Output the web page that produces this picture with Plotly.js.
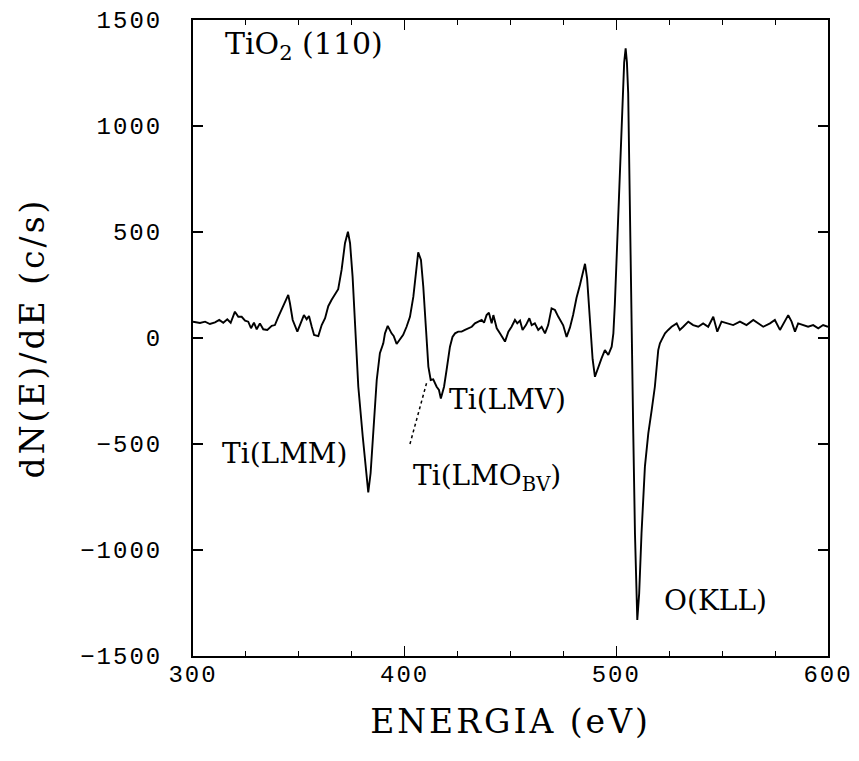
<!DOCTYPE html>
<html>
<head>
<meta charset="utf-8">
<script src="https://cdn.plot.ly/plotly-3.0.1.min.js"></script>
<style>
html,body{margin:0;padding:0;background:#fff;}
#chart{width:859px;height:761px;}
#chart .xtick text, #chart .ytick text{letter-spacing:2px;}
#chart .xtitle, #chart .ytitle{letter-spacing:3px;}
</style>
</head>
<body>
<div id="chart"></div>
<script>
// Energy (eV) and dN(E)/dE (c/s)
const energy = [300,303.3,305.7,308,310.4,312.4,314.3,316.2,317.8,319.8,321.4,323,324.6,326.1,327.4,328.8,330.1,331.6,333.2,335.1,337.2,338.7,340.3,342.7,345.0,345.8,347.1,349.3,351,352.4,353.7,354.8,356.1,357.2,359.2,360.8,362.4,363.9,365.5,367.1,368.6,370.2,371.8,373.2,374.2,375.4,376.5,378.1,380.2,382,382.8,383.9,385.2,386.8,388.3,389.9,390.7,392,393.8,394.8,396.2,397.8,399.3,400.9,402.5,404.1,405.3,406.4,407.7,408.8,410.1,411.2,412.3,413.5,415.1,416.2,417.1,418.6,419.8,421.4,422.6,423.8,425.3,426.9,428.5,430,431.7,433.2,434.8,436.4,437.5,438.7,439.8,441.1,441.9,443.5,445,447.4,449,450.5,452.1,453.2,454.5,455.7,457.3,458.9,460,461.5,463.1,464.7,466.3,467.8,469.4,471,472.6,474.9,476.5,478.1,479.6,481.2,482.8,484,485.2,486.2,487.5,488.8,489.9,491.9,493,494.6,496.2,497.8,498.6,499.3,500.9,502.5,503.7,504.4,505,505.6,506.4,506.9,507.6,508,508.8,509.6,509.9,510.8,511.9,513.5,515.1,516.7,518.2,519.8,520.6,521.4,523,524.5,526.1,528.5,530,531.6,534,536.3,538.7,541,543.4,545.8,547.7,549.7,552.1,555.2,558.4,561.5,564.7,567,569.4,572.6,574.9,577.3,579.6,581.2,582.8,584.4,585.9,588.3,590.6,593,595.4,597.7,600];
const signal = [77,71,77,66,74,85,72,88,72,124,100,100,82,77,46,72,41,69,41,38,57,61,100,156,203,164,85,30,77,108,88,104,53,14,9,61,93,150,180,205,230,321,447,501,447,289,85,-230,-466,-670,-728,-638,-418,-198,-72,-25,22,57,22,10,-28,-5,15,53,100,195,321,404,368,242,38,-135,-198,-195,-230,-245,-285,-230,-151,-41,5,22,30,30,38,46,53,69,77,85,72,108,119,69,108,46,22,-17,30,53,85,69,82,38,61,93,61,69,38,53,22,61,140,132,100,60,5,50,110,190,250,300,350,280,100,-100,-183,-120,-96,-57,-80,-41,22,160,604,1000,1300,1366,1300,1154,600,100,-300,-450,-921,-1236,-1330,-1204,-921,-607,-450,-340,-230,-57,-25,-9,22,38,53,69,38,53,77,61,53,69,53,100,30,77,69,61,77,61,85,69,53,69,85,38,77,108,77,30,69,61,53,61,46,61,53];

const xTickVals = [300,400,500,600];
const yTickVals = [-1500,-1000,-500,0,500,1000,1500];

const sampleLabel = "TiO<sub>2</sub> (110)";
const peakLabels = ["Ti(LMM)","Ti(LMV)","Ti(LMO<sub>BV</sub>)","O(KLL)"];
const peakLabelX = [312.6,419.8,403.2,521.7];
const peakLabelY = [-545,-292,-660,-1236];

const serif = "DejaVu Serif, Liberation Serif, serif";
const mono = "Liberation Mono, DejaVu Sans Mono, monospace";

const trace = {
  x: energy, y: signal, type: "scatter", mode: "lines",
  line: {color: "#000", width: 1.9}, hoverinfo: "skip"
};

const annotations = [{
  x: 314.2, y: 1378, xref: "x", yref: "y", text: sampleLabel,
  showarrow: false, xanchor: "left", yanchor: "middle",
  font: {family: serif, size: 30, color: "#000"}
}];
for (let i = 0; i < peakLabels.length; i++) {
  annotations.push({
    x: peakLabelX[i], y: peakLabelY[i], xref: "x", yref: "y", text: peakLabels[i],
    showarrow: false, xanchor: "left", yanchor: "middle",
    font: {family: serif, size: 28, color: "#000"}
  });
}

const layout = {
  width: 859, height: 761,
  margin: {l: 193, r: 31, t: 20, b: 105},
  paper_bgcolor: "#fff", plot_bgcolor: "#fff",
  showlegend: false,
  xaxis: {
    range: [300, 600], tickvals: xTickVals, ticktext: xTickVals.map(String),
    ticks: "inside", ticklen: 10, tickwidth: 1.5, tickcolor: "#000",
    minor: {dtick: 25, tick0: 300, ticks: "inside", ticklen: 5, tickwidth: 1, tickcolor: "#000"},
    showline: true, linecolor: "#000", linewidth: 2, mirror: "ticks",
    showgrid: false, zeroline: false,
    ticklabelstandoff: -5,
    tickfont: {family: mono, size: 24, color: "#000"},
    title: {text: "ENERGIA (eV)", font: {family: serif, size: 33, color: "#000"}, standoff: 22}
  },
  yaxis: {
    range: [-1500, 1500], tickvals: yTickVals, ticktext: yTickVals.map(v => v < 0 ? "\u2212" + Math.abs(v) : String(v)),
    ticks: "inside", ticklen: 10, tickwidth: 1.5, tickcolor: "#000",
    showline: true, linecolor: "#000", linewidth: 2, mirror: "ticks",
    showgrid: false, zeroline: false,
    ticklabelstandoff: 24,
    tickfont: {family: mono, size: 24, color: "#000"},
    title: {text: "dN(E)/dE (c/s)", font: {family: serif, size: 33, color: "#000"}, standoff: 36}
  },
  annotations: annotations,
  shapes: [{
    type: "line", xref: "x", yref: "y", x0: 402.5, y0: -500, x1: 410.5, y1: -207,
    line: {color: "#000", width: 1.5, dash: "dot"}
  }]
};

Plotly.newPlot("chart", [trace], layout, {staticPlot: true});
</script>
</body>
</html>
